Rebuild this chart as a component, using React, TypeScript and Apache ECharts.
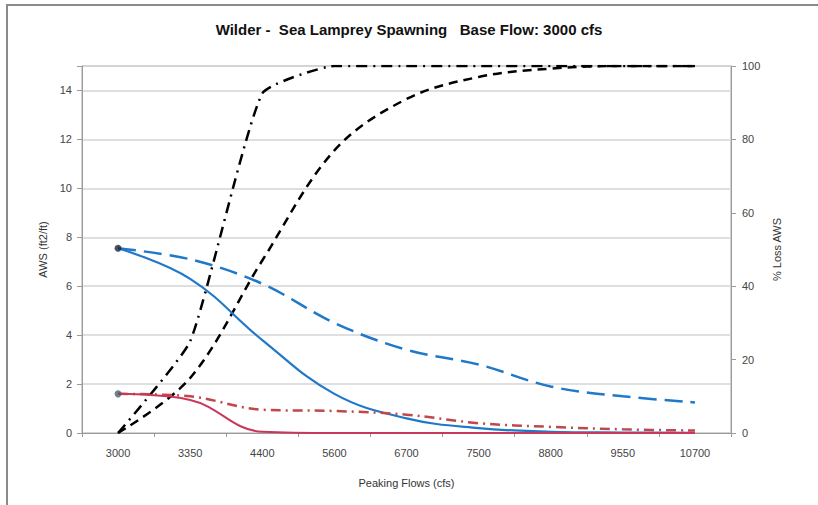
import React, { useEffect, useRef } from "react";
import * as echarts from "echarts";

const categories = ["3000", "3350", "4400", "5600", "6700", "7500", "8800", "9550", "10700"];
// Left axis: AWS (ft2/ft)
const awsBlueSolid = [7.55, 6.3, 3.8, 1.6, 0.6, 0.2, 0.05, 0.02, 0.01];
const awsBlueDashed = [7.55, 7.1, 6.1, 4.5, 3.4, 2.8, 1.9, 1.5, 1.25];
const awsRedSolid = [1.6, 1.35, 0.05, 0, 0, 0, 0, 0, 0];
const awsRedDashDot = [1.6, 1.5, 0.95, 0.9, 0.75, 0.4, 0.25, 0.15, 0.1];
// Right axis: % Loss AWS
const lossDashed = [0, 15, 47, 77, 91, 97, 99.3, 100, 100];
const lossDashDot = [0, 25, 92.5, 100, 100, 100, 100, 100, 100];

const FONT = "Liberation Sans, Arial, sans-serif";

export default function App() {
  const ref = useRef<HTMLDivElement>(null);
  useEffect(() => {
    const chart = echarts.init(ref.current!, null, { renderer: "svg" });
    const startMarkers = [
      { value: [0, awsBlueSolid[0]], itemStyle: { color: "#1b2633" } },
      { value: [0, awsRedSolid[0]], itemStyle: { color: "#4d5e6e" } },
    ];
    chart.setOption({
      animation: false,
      backgroundColor: "#ffffff",
      textStyle: { fontFamily: FONT },
      title: {
        text: "Wilder -  Sea Lamprey Spawning   Base Flow: 3000 cfs",
        left: "center",
        top: 17,
        textStyle: { fontFamily: FONT, fontSize: 15, fontWeight: "bold", color: "#111" },
      },
      graphic: [
        {
          type: "rect",
          shape: { x: 7, y: 5, width: 840, height: 530 },
          style: { fill: "none", stroke: "#8a8a8a", lineWidth: 2 },
          silent: true,
        },
      ],
      grid: {
        left: 82,
        right: 87,
        top: 66,
        bottom: 72,
        show: true,
        borderColor: "#a6a6a6",
        borderWidth: 1,
        backgroundColor: "#ffffff",
      },
      xAxis: {
        type: "category",
        data: categories,
        boundaryGap: true,
        name: "Peaking Flows (cfs)",
        nameLocation: "middle",
        nameGap: 44,
        nameTextStyle: { fontFamily: FONT, fontSize: 11, color: "#333" },
        axisLine: { lineStyle: { color: "#9a9a9a" } },
        axisTick: { show: true, length: 4, lineStyle: { color: "#9a9a9a" } },
        axisLabel: { margin: 14, fontFamily: FONT, fontSize: 11, color: "#444" },
      },
      yAxis: [
        {
          type: "value",
          min: 0,
          max: 15,
          interval: 2,
          name: "AWS (ft2/ft)",
          nameLocation: "middle",
          nameGap: 29,
          nameRotate: 90,
          nameTextStyle: { fontFamily: FONT, fontSize: 11, color: "#333" },
          axisLine: { show: true, lineStyle: { color: "#9a9a9a" } },
          axisTick: { show: true, length: 5, lineStyle: { color: "#9a9a9a" } },
          axisLabel: {
            margin: 10,
            fontFamily: FONT,
            fontSize: 11,
            color: "#444",
            formatter: (v: number) => (v > 14 ? "" : String(v)),
          },
          splitLine: { show: true, lineStyle: { color: "#d4d4d4", width: 1.5 } },
        },
        {
          type: "value",
          min: 0,
          max: 100,
          interval: 20,
          name: "% Loss AWS",
          nameLocation: "middle",
          nameGap: 29,
          nameRotate: 90,
          nameTextStyle: { fontFamily: FONT, fontSize: 11, color: "#333" },
          axisLine: { show: true, lineStyle: { color: "#9a9a9a" } },
          axisTick: { show: true, length: 5, lineStyle: { color: "#9a9a9a" } },
          axisLabel: { margin: 11, fontFamily: FONT, fontSize: 11, color: "#444" },
          splitLine: { show: false },
        },
      ],
      series: [
        {
          name: "Loss dashed",
          type: "line",
          yAxisIndex: 1,
          data: lossDashed,
          smooth: 0.35,
          showSymbol: false,
          lineStyle: { color: "#000", width: 2.5, type: [9, 6] },
          z: 3,
        },
        {
          name: "Loss dash-dot",
          type: "line",
          yAxisIndex: 1,
          data: lossDashDot,
          smooth: 0.15,
          showSymbol: false,
          lineStyle: { color: "#000", width: 2.5, type: [11, 6, 2, 6] },
          z: 3,
        },
        {
          name: "AWS blue dashed",
          type: "line",
          yAxisIndex: 0,
          data: awsBlueDashed,
          smooth: 0.35,
          showSymbol: false,
          lineStyle: { color: "#1f78c8", width: 2.5, type: [18, 8] },
          z: 4,
        },
        {
          name: "AWS blue solid",
          type: "line",
          yAxisIndex: 0,
          data: awsBlueSolid,
          smooth: 0.4,
          showSymbol: false,
          lineStyle: { color: "#1f78c8", width: 2.2 },
          z: 4,
        },
        {
          name: "AWS red dash-dot",
          type: "line",
          yAxisIndex: 0,
          data: awsRedDashDot,
          smooth: 0.35,
          showSymbol: false,
          lineStyle: { color: "#c0474a", width: 2.5, type: [10, 5, 2, 5] },
          z: 4,
        },
        {
          name: "AWS red solid",
          type: "line",
          yAxisIndex: 0,
          data: awsRedSolid,
          smooth: 0.4,
          showSymbol: false,
          lineStyle: { color: "#c9385b", width: 2 },
          z: 4,
        },
        {
          name: "Start",
          type: "scatter",
          yAxisIndex: 0,
          data: startMarkers,
          symbol: "circle",
          symbolSize: 7,
          z: 6,
        },
      ],
    });
    return () => chart.dispose();
  }, []);
  return <div ref={ref} style={{ width: 818, height: 505, position: "absolute", left: 0, top: 0 }} />;
}
